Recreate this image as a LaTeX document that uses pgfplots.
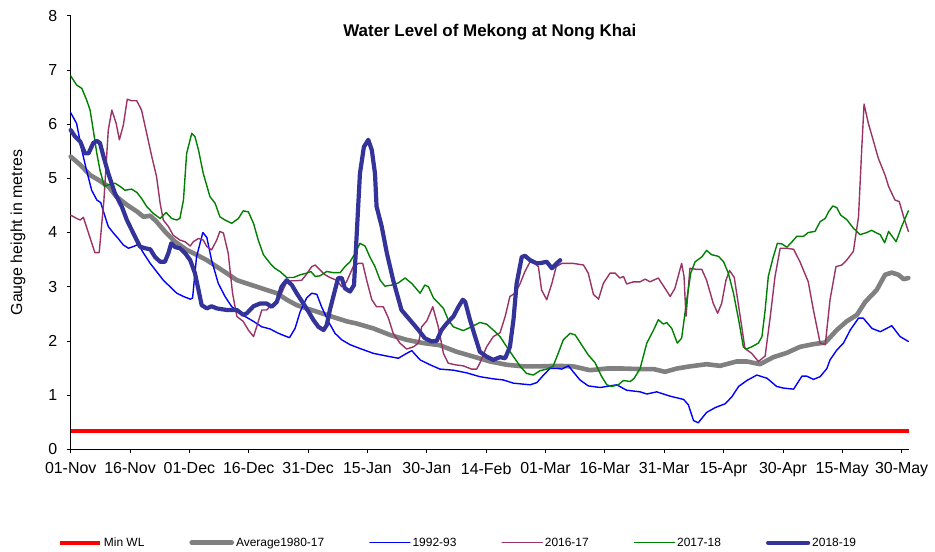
\documentclass[border=0pt]{standalone}
\usepackage{pgfplots}
\pgfplotsset{compat=1.18}
\usepackage{fontspec}
\setmainfont{Liberation Sans}
\definecolor{avg}{RGB}{128,128,128}
\definecolor{plum}{RGB}{153,51,102}
\definecolor{grn}{RGB}{0,128,0}
\definecolor{navy}{RGB}{51,51,153}
\definecolor{blu}{RGB}{0,0,255}
\begin{document}
\begin{tikzpicture}
\path[use as bounding box] (-70.7bp,-102.7bp) rectangle (864.3bp,449.3bp);
\begin{axis}[
  at={(0,0)}, anchor=south west,
  scale only axis, width=838.3bp, height=433.6bp,
  xmin=0, xmax=211.86, ymin=0, ymax=8,
  axis x line*=bottom, axis y line*=left,
  axis line style={-, black, line width=0.8bp},
  xtick={0,15,...,210},
  xticklabels={01-Nov,16-Nov,01-Dec,16-Dec,31-Dec,15-Jan,30-Jan,14-Feb,01-Mar,16-Mar,31-Mar,15-Apr,30-Apr,15-May,30-May},
  ytick={0,1,...,8},
  tick align=outside, major tick length=4bp,
  tick style={black, line width=0.8bp},
  minor tick num=0,
  /pgf/number format/assume math mode=true,
  ticklabel style={font=\fontsize{16}{19}\selectfont},
  xticklabel style={yshift=-6bp},
  yticklabel style={xshift=-6bp},
  ylabel={Gauge height in metres},
  ylabel style={at={(axis description cs:-0.0629,0.5)}, anchor=center, font=\fontsize{16}{19}\selectfont},
  legend columns=6,
  legend style={at={(axis description cs:0.462,-0.2154)}, anchor=center, draw=none,
    font=\fontsize{12}{14}\selectfont, nodes={inner sep=2bp},
    /tikz/every even column/.append style={column sep=43bp}},
  legend image code/.code={\draw[#1] (0bp,0bp) -- (40bp,0bp);},
  clip=false,
  every axis plot/.append style={line join=round, line cap=round},
]
\addplot[red, line width=4bp, line cap=butt] coordinates {(0,0.33) (211.86,0.33)};
\addlegendentry{Min WL}
\addplot[avg, line width=4.6bp] coordinates {
(0,5.40) (2.4,5.25) (4.9,5.06) (7.0,4.97) (9.5,4.85) (11.6,4.66) (14.2,4.51) (16.7,4.39) (18.4,4.29) (20.1,4.31) (21.7,4.20) (23.8,4.02) (26.4,3.83) (29.3,3.68) (31.8,3.59) (34.4,3.49) (36.9,3.37) (39.4,3.25) (42.0,3.12) (44.5,3.06) (47.0,3.00) (49.5,2.94) (52.1,2.88) (54.6,2.76) (57.1,2.66) (59.6,2.60) (62.2,2.54) (64.7,2.48) (67.2,2.42) (69.8,2.36) (72.3,2.32) (76.5,2.23) (80.7,2.11) (84.9,2.02) (89.1,1.96) (93.3,1.92) (97.5,1.80) (101.8,1.71) (106.0,1.62) (110.2,1.56) (114.4,1.53) (118.6,1.53) (122.8,1.54) (127.0,1.53) (131.2,1.46) (135.5,1.49) (139.7,1.49) (143.9,1.48) (147.3,1.48) (150.2,1.43) (153.2,1.49) (156.5,1.53) (160.7,1.57) (164.1,1.54) (168.3,1.62) (170.9,1.62) (174.2,1.57) (177.6,1.70) (181.0,1.78) (184.3,1.89) (187.7,1.94) (190.7,1.97) (193.6,2.20) (196.1,2.36) (198.7,2.48) (200.8,2.72) (203.7,2.94) (205.8,3.22) (207.5,3.26) (209.2,3.22) (210.5,3.14) (211.7,3.16)};
\addlegendentry{Average1980-17}
\addplot[blu, line width=1.4bp] coordinates {
(0,6.21) (1.5,6.01) (2.8,5.52) (4.0,5.15) (5.3,4.78) (6.6,4.60) (7.6,4.55) (8.7,4.29) (9.5,4.11) (10.8,3.99) (12.0,3.89) (13.3,3.77) (14.6,3.71) (15.8,3.74) (17.1,3.78) (18.4,3.62) (20.1,3.43) (21.7,3.28) (23.4,3.12) (25.1,3.00) (26.8,2.88) (28.5,2.82) (30.2,2.77) (30.8,2.79) (31.8,3.55) (33.4,4.00) (34.4,3.91) (35.6,3.49) (37.3,3.06) (39.0,2.82) (40.7,2.63) (42.4,2.54) (44.1,2.45) (46.2,2.36) (48.3,2.26) (50.4,2.22) (52.5,2.14) (54.2,2.09) (55.3,2.06) (56.7,2.23) (58.0,2.54) (59.6,2.79) (60.9,2.88) (62.2,2.86) (63.4,2.63) (65.1,2.36) (66.8,2.14) (68.5,2.02) (70.6,1.93) (73.1,1.86) (76.5,1.77) (79.9,1.72) (82.8,1.68) (84.9,1.77) (86.2,1.82) (88.3,1.65) (90.8,1.56) (93.3,1.48) (96.7,1.46) (100.1,1.41) (103.4,1.34) (106.8,1.30) (109.3,1.28) (111.9,1.22) (116.1,1.19) (117.8,1.23) (119.5,1.37) (121.1,1.49) (123.2,1.49) (124.1,1.48) (125.8,1.54) (127.0,1.43) (128.7,1.28) (130.8,1.17) (133.8,1.14) (136.3,1.17) (138.0,1.19) (140.5,1.09) (143.9,1.06) (145.6,1.02) (148.1,1.06) (151.5,0.98) (154.9,0.92) (156.1,0.82) (157.4,0.53) (158.6,0.49) (160.7,0.68) (162.9,0.77) (165.4,0.84) (167.1,0.97) (168.8,1.16) (170.9,1.27) (173.4,1.37) (176.0,1.31) (178.4,1.16) (180.1,1.13) (182.7,1.11) (184.8,1.35) (186.0,1.35) (187.7,1.29) (189.4,1.34) (191.1,1.49) (191.9,1.65) (193.6,1.83) (195.3,1.96) (197.0,2.20) (199.1,2.42) (200.3,2.42) (202.5,2.23) (204.6,2.17) (206.2,2.23) (207.5,2.28) (209.6,2.08) (211.7,1.99)};
\addlegendentry{1992-93}
\addplot[plum, line width=1.4bp] coordinates {
(0,4.32) (1.5,4.26) (2.4,4.23) (3.2,4.28) (4.5,3.99) (6.1,3.63) (7.2,3.63) (8.4,4.60) (9.5,5.89) (10.4,6.26) (11.5,6.01) (12.3,5.71) (13.3,5.98) (14.3,6.46) (15.4,6.43) (16.7,6.43) (17.9,6.26) (19.2,5.83) (20.5,5.40) (21.7,5.03) (22.6,4.54) (23.4,4.23) (24.7,4.11) (25.9,3.95) (27.6,3.86) (28.9,3.83) (30.2,3.75) (31.0,3.83) (32.3,3.89) (33.5,3.86) (34.4,3.74) (35.6,3.68) (36.9,3.86) (37.7,4.02) (38.6,3.99) (39.8,3.62) (40.9,2.88) (42.0,2.45) (43.6,2.36) (44.9,2.20) (46.2,2.08) (47.0,2.26) (48.3,2.57) (49.5,2.57) (50.8,2.66) (52.1,2.72) (53.3,2.88) (54.6,3.09) (55.9,3.11) (57.1,3.11) (58.4,3.12) (59.6,3.23) (60.9,3.37) (61.8,3.40) (63.0,3.31) (64.3,3.22) (65.5,3.17) (67.2,3.12) (68.5,3.00) (69.7,3.09) (71.4,3.37) (72.7,3.43) (73.8,3.43) (74.8,3.12) (76.1,2.76) (77.3,2.63) (79.0,2.63) (80.3,2.42) (81.5,2.14) (83.2,1.96) (84.9,1.85) (86.6,1.89) (87.9,1.96) (88.7,2.26) (90.0,2.37) (91.5,2.63) (92.9,2.26) (94.2,1.77) (95.4,1.59) (97.1,1.56) (99.2,1.54) (101.3,1.48) (102.6,1.48) (103.4,1.59) (105.1,1.89) (106.8,2.08) (108.5,2.15) (109.8,2.45) (111.0,2.82) (112.3,2.88) (113.6,3.06) (114.8,3.28) (116.1,3.46) (117.3,3.43) (118.2,3.37) (119.0,2.94) (120.3,2.76) (121.6,3.06) (122.7,3.37) (124.1,3.43) (127.0,3.43) (129.6,3.40) (130.8,3.25) (132.1,2.86) (133.4,2.77) (134.6,3.06) (136.3,3.25) (137.6,3.25) (138.8,3.16) (139.7,3.19) (140.5,3.05) (142.2,3.09) (143.9,3.09) (145.2,3.14) (146.4,3.09) (148.5,3.16) (150.2,2.97) (151.5,2.82) (152.7,2.97) (154.4,3.43) (155.0,3.19) (155.5,2.45) (156.5,3.34) (158.2,3.32) (159.5,3.32) (160.7,3.12) (162.4,2.69) (163.5,2.51) (164.5,2.69) (165.6,3.12) (166.5,3.30) (167.7,3.17) (169.2,2.45) (170.4,1.86) (172.1,1.77) (173.8,1.62) (175.5,1.72) (176.8,2.45) (178.0,3.19) (179.3,3.71) (181.0,3.71) (182.7,3.69) (184.3,3.46) (186.4,3.09) (187.7,2.57) (189.4,1.96) (190.7,1.93) (191.9,2.76) (193.4,3.37) (194.9,3.40) (196.1,3.49) (197.8,3.65) (199.1,4.29) (199.9,5.52) (200.5,6.37) (201.6,6.01) (202.9,5.68) (204.1,5.37) (205.8,5.06) (206.7,4.85) (208.3,4.60) (209.4,4.57) (210.5,4.29) (211.7,4.02)};
\addlegendentry{2016-17}
\addplot[grn, line width=1.4bp] coordinates {
(0,6.89) (1.5,6.72) (2.8,6.66) (4.0,6.45) (4.9,6.26) (5.7,5.89) (6.6,5.46) (7.4,5.15) (8.5,4.85) (9.5,4.88) (11.2,4.91) (12.5,4.85) (13.7,4.78) (15.4,4.80) (16.7,4.74) (17.9,4.63) (19.2,4.48) (20.9,4.35) (22.6,4.26) (24.1,4.37) (25.5,4.26) (26.8,4.23) (27.6,4.26) (28.5,4.60) (29.3,5.46) (30.6,5.83) (31.4,5.77) (32.3,5.52) (33.5,5.09) (35.2,4.66) (36.5,4.54) (37.7,4.29) (39.0,4.23) (40.7,4.17) (42.4,4.26) (43.6,4.40) (44.9,4.38) (46.2,4.17) (47.4,3.86) (48.7,3.59) (50.4,3.43) (51.6,3.34) (52.9,3.28) (54.6,3.17) (56.3,3.17) (58.0,3.22) (59.6,3.25) (60.7,3.28) (61.8,3.19) (63.0,3.20) (64.7,3.28) (66.4,3.26) (68.1,3.26) (69.3,3.37) (70.6,3.46) (71.9,3.62) (73.1,3.80) (74.4,3.75) (75.6,3.55) (76.9,3.37) (78.2,3.12) (79.4,3.01) (81.1,3.03) (82.8,3.07) (84.5,3.16) (86.2,3.06) (88.3,2.88) (89.5,3.03) (90.4,3.00) (91.7,2.79) (92.9,2.70) (94.2,2.60) (95.4,2.39) (96.7,2.26) (99.2,2.19) (101.3,2.26) (103.4,2.34) (105.1,2.31) (106.8,2.20) (108.5,2.08) (110.2,1.89) (111.9,1.71) (113.6,1.53) (115.2,1.40) (116.9,1.37) (118.6,1.45) (120.3,1.48) (121.9,1.53) (123.2,1.77) (124.5,2.02) (126.2,2.14) (127.5,2.11) (129.1,1.93) (130.8,1.74) (132.5,1.60) (134.2,1.34) (135.5,1.19) (136.7,1.16) (138.4,1.19) (139.7,1.27) (141.4,1.25) (142.4,1.31) (143.9,1.49) (145.6,1.96) (147.3,2.20) (148.5,2.39) (149.8,2.31) (150.6,2.34) (151.9,2.23) (153.3,1.96) (154.4,2.05) (155.7,2.76) (156.7,3.25) (157.8,3.46) (159.5,3.55) (160.7,3.67) (162.0,3.59) (163.7,3.56) (165.0,3.46) (166.2,3.25) (167.5,2.88) (168.8,2.39) (170.0,1.89) (170.7,1.85) (172.1,1.89) (173.8,1.96) (174.7,2.08) (175.5,2.57) (176.3,3.19) (177.6,3.56) (178.6,3.80) (179.7,3.79) (181.0,3.73) (182.2,3.82) (183.5,3.93) (185.2,3.93) (186.4,4.00) (188.1,4.02) (189.4,4.20) (190.7,4.26) (191.5,4.38) (192.6,4.49) (193.6,4.46) (194.6,4.32) (196.1,4.24) (197.8,4.08) (199.5,3.96) (201.2,4.00) (202.4,4.04) (203.7,3.99) (204.6,3.96) (205.7,3.81) (206.7,4.02) (208.6,3.83) (210.0,4.11) (211.7,4.40)};
\addlegendentry{2017-18}
\addplot[navy, line width=4.2bp] coordinates {
(0,5.89) (1.1,5.77) (2.4,5.68) (3.6,5.46) (4.5,5.46) (5.7,5.65) (6.6,5.69) (7.4,5.65) (8.3,5.40) (9.5,5.09) (11.2,4.72) (12.9,4.48) (14.2,4.23) (15.8,3.99) (17.5,3.74) (18.8,3.71) (20.1,3.69) (21.3,3.55) (22.6,3.46) (23.8,3.46) (24.7,3.62) (25.4,3.80) (26.4,3.73) (27.6,3.71) (28.9,3.62) (30.2,3.49) (31.4,3.25) (32.3,2.94) (33.1,2.66) (34.4,2.60) (35.6,2.64) (36.9,2.60) (39.4,2.57) (42.0,2.57) (43.6,2.48) (44.5,2.51) (46.2,2.64) (47.9,2.69) (49.5,2.69) (50.8,2.63) (52.1,2.72) (53.3,3.00) (54.6,3.12) (55.9,3.03) (57.1,2.88) (58.8,2.69) (60.1,2.54) (61.3,2.39) (62.6,2.26) (63.9,2.20) (64.7,2.29) (65.5,2.57) (66.8,2.94) (67.6,3.16) (68.5,3.16) (69.3,2.97) (70.6,2.91) (71.6,3.03) (72.3,3.99) (73.1,5.09) (74.1,5.58) (75.2,5.71) (76.1,5.52) (76.9,5.09) (77.3,4.48) (78.6,4.11) (79.9,3.62) (81.5,3.12) (83.6,2.57) (85.7,2.39) (87.9,2.20) (89.5,2.05) (91.2,1.99) (92.5,2.00) (93.7,2.20) (95.0,2.32) (96.7,2.45) (98.0,2.63) (99.1,2.76) (99.7,2.72) (100.9,2.39) (102.2,2.08) (103.4,1.80) (105.1,1.71) (106.8,1.65) (108.5,1.70) (109.8,1.68) (111.0,1.89) (111.9,2.39) (112.7,3.06) (114.0,3.55) (114.8,3.57) (116.1,3.49) (117.8,3.43) (119.0,3.44) (120.3,3.46) (121.6,3.34) (122.4,3.40) (123.7,3.49)};
\addlegendentry{2018-19}
\node[font=\fontsize{17}{20}\selectfont\bfseries, anchor=center] at (rel axis cs:0.5,0.963) {Water Level of Mekong at Nong Khai};
\end{axis}
\end{tikzpicture}
\end{document}
